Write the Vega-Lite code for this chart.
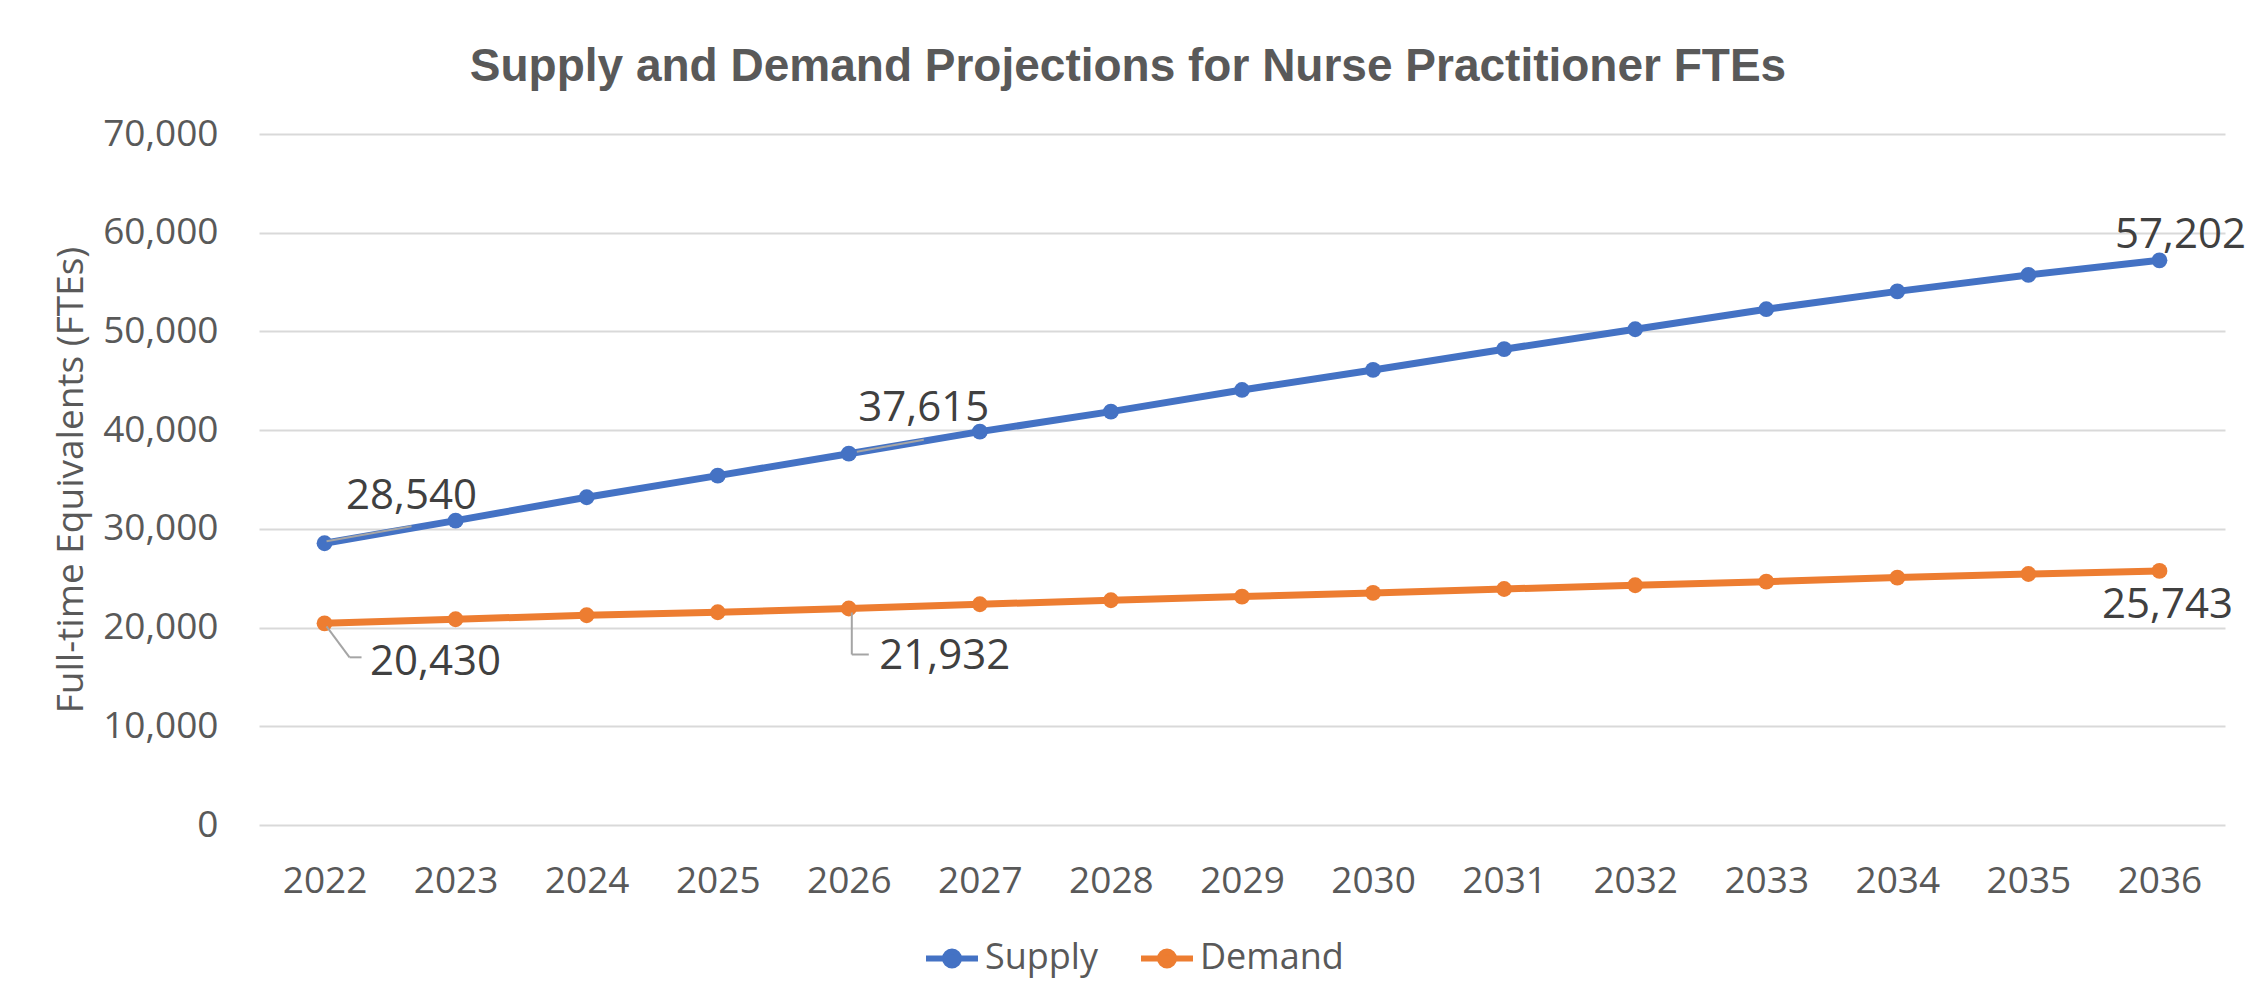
{
  "$schema": "https://vega.github.io/schema/vega-lite/v6.json",
  "width": 1966,
  "height": 691,
  "autosize": {"type": "none"},
  "padding": {"left": 259, "top": 134, "right": 32, "bottom": 175},
  "background": "white",
  "title": {
    "text": "Supply and Demand Projections for Nurse Practitioner FTEs",
    "font": "Liberation Sans",
    "fontSize": 46,
    "fontWeight": "bold",
    "color": "#595959",
    "anchor": "middle",
    "dx": -114,
    "dy": 51,
    "baseline": "alphabetic",
    "offset": 39
  },
  "config": {
    "view": {"stroke": null},
    "axis": {
      "labelFont": "Open Sans",
      "labelFontSize": 37,
      "labelColor": "#595959",
      "titleFont": "Open Sans",
      "titleFontSize": 37,
      "titleFontWeight": "normal",
      "titleColor": "#595959",
      "domain": false,
      "ticks": false,
      "tickSize": 0,
      "gridColor": "#D9D9D9",
      "gridWidth": 2
    }
  },
  "data": {
    "values": [
      {"year": 2022, "series": "Supply", "value": 28540},
      {"year": 2023, "series": "Supply", "value": 30830},
      {"year": 2024, "series": "Supply", "value": 33200},
      {"year": 2025, "series": "Supply", "value": 35390},
      {"year": 2026, "series": "Supply", "value": 37615},
      {"year": 2027, "series": "Supply", "value": 39850},
      {"year": 2028, "series": "Supply", "value": 41880},
      {"year": 2029, "series": "Supply", "value": 44070},
      {"year": 2030, "series": "Supply", "value": 46100},
      {"year": 2031, "series": "Supply", "value": 48200},
      {"year": 2032, "series": "Supply", "value": 50220},
      {"year": 2033, "series": "Supply", "value": 52250},
      {"year": 2034, "series": "Supply", "value": 54060},
      {"year": 2035, "series": "Supply", "value": 55720},
      {"year": 2036, "series": "Supply", "value": 57202},
      {"year": 2022, "series": "Demand", "value": 20430},
      {"year": 2023, "series": "Demand", "value": 20840},
      {"year": 2024, "series": "Demand", "value": 21250},
      {"year": 2025, "series": "Demand", "value": 21550},
      {"year": 2026, "series": "Demand", "value": 21932},
      {"year": 2027, "series": "Demand", "value": 22360},
      {"year": 2028, "series": "Demand", "value": 22770},
      {"year": 2029, "series": "Demand", "value": 23140},
      {"year": 2030, "series": "Demand", "value": 23510},
      {"year": 2031, "series": "Demand", "value": 23910},
      {"year": 2032, "series": "Demand", "value": 24290},
      {"year": 2033, "series": "Demand", "value": 24650},
      {"year": 2034, "series": "Demand", "value": 25060},
      {"year": 2035, "series": "Demand", "value": 25430},
      {"year": 2036, "series": "Demand", "value": 25743}
    ]
  },
  "encoding": {
    "x": {
      "field": "year",
      "type": "ordinal",
      "scale": {"type": "point", "padding": 0.5},
      "axis": {"title": null, "labelAngle": 0, "labelPadding": 38, "grid": false}
    },
    "y": {
      "field": "value",
      "type": "quantitative",
      "scale": {"domain": [0, 70000], "nice": false},
      "axis": {
        "title": "Full-time Equivalents (FTEs)",
        "values": [0, 10000, 20000, 30000, 40000, 50000, 60000, 70000],
        "format": ",.0f",
        "labelPadding": 41,
        "titlePadding": 12
      }
    }
  },
  "layer": [
    {
      "mark": {"type": "line", "strokeWidth": 7, "point": {"filled": true, "size": 250}},
      "encoding": {
        "color": {
          "field": "series",
          "type": "nominal",
          "scale": {"domain": ["Supply", "Demand"], "range": ["#4472C4", "#ED7D31"]},
          "legend": {
            "title": null,
            "orient": "none",
            "direction": "horizontal",
            "legendX": 664,
            "legendY": 795,
            "padding": 0,
            "columnPadding": 31,
            "labelFont": "Open Sans",
            "labelFontSize": 36,
            "labelColor": "#595959",
            "labelOffset": 4,
            "symbolType": "M-1,0L1,0M0.27,0A0.27,0.27,0,1,1,-0.27,0A0.27,0.27,0,1,1,0.27,0Z",
            "symbolSize": 2700,
            "symbolStrokeWidth": 6,
            "encode": {
              "symbols": {"update": {"fill": {"scale": "color", "field": "value"}, "stroke": {"scale": "color", "field": "value"}, "opacity": {"value": 1}}}
            }
          }
        }
      }
    },
    {
      "transform": [{"filter": "datum.year == 2022 && datum.series == 'Supply'"}],
      "mark": {"type": "rule", "color": "#A5A5A5", "strokeWidth": 2, "xOffset": 2, "yOffset": -2, "x2Offset": 87, "y2Offset": -17},
      "encoding": {"x2": {"field": "year"}, "y2": {"field": "value"}}
    },
    {
      "transform": [{"filter": "datum.year == 2026 && datum.series == 'Supply'"}],
      "mark": {"type": "rule", "color": "#A5A5A5", "strokeWidth": 2, "xOffset": 8, "yOffset": -2, "x2Offset": 75, "y2Offset": -14},
      "encoding": {"x2": {"field": "year"}, "y2": {"field": "value"}}
    },
    {
      "transform": [{"filter": "datum.year == 2022 && datum.series == 'Demand'"}],
      "mark": {"type": "rule", "color": "#A5A5A5", "strokeWidth": 2, "xOffset": 2, "yOffset": 3, "x2Offset": 25, "y2Offset": 34},
      "encoding": {"x2": {"field": "year"}, "y2": {"field": "value"}}
    },
    {
      "transform": [{"filter": "datum.year == 2022 && datum.series == 'Demand'"}],
      "mark": {"type": "rule", "color": "#A5A5A5", "strokeWidth": 2, "xOffset": 25, "yOffset": 34, "x2Offset": 37, "y2Offset": 34},
      "encoding": {"x2": {"field": "year"}, "y2": {"field": "value"}}
    },
    {
      "transform": [{"filter": "datum.year == 2026 && datum.series == 'Demand'"}],
      "mark": {"type": "rule", "color": "#A5A5A5", "strokeWidth": 2, "xOffset": 3, "yOffset": 4, "x2Offset": 3, "y2Offset": 46},
      "encoding": {"x2": {"field": "year"}, "y2": {"field": "value"}}
    },
    {
      "transform": [{"filter": "datum.year == 2026 && datum.series == 'Demand'"}],
      "mark": {"type": "rule", "color": "#A5A5A5", "strokeWidth": 2, "xOffset": 3, "yOffset": 46, "x2Offset": 20, "y2Offset": 46},
      "encoding": {"x2": {"field": "year"}, "y2": {"field": "value"}}
    },
    {
      "transform": [{"filter": "datum.year == 2022 && datum.series == 'Supply'"}],
      "mark": {"type": "text", "font": "Open Sans", "fontSize": 42, "color": "#404040", "align": "center", "baseline": "alphabetic", "dx": 87, "dy": -34},
      "encoding": {"text": {"field": "value", "format": ","}}
    },
    {
      "transform": [{"filter": "datum.year == 2026 && datum.series == 'Supply'"}],
      "mark": {"type": "text", "font": "Open Sans", "fontSize": 42, "color": "#404040", "align": "center", "baseline": "alphabetic", "dx": 75, "dy": -33},
      "encoding": {"text": {"field": "value", "format": ","}}
    },
    {
      "transform": [{"filter": "datum.year == 2036 && datum.series == 'Supply'"}],
      "mark": {"type": "text", "font": "Open Sans", "fontSize": 42, "color": "#404040", "align": "center", "baseline": "alphabetic", "dx": 21, "dy": -12},
      "encoding": {"text": {"field": "value", "format": ","}}
    },
    {
      "transform": [{"filter": "datum.year == 2022 && datum.series == 'Demand'"}],
      "mark": {"type": "text", "font": "Open Sans", "fontSize": 42, "color": "#404040", "align": "center", "baseline": "alphabetic", "dx": 111, "dy": 52},
      "encoding": {"text": {"field": "value", "format": ","}}
    },
    {
      "transform": [{"filter": "datum.year == 2026 && datum.series == 'Demand'"}],
      "mark": {"type": "text", "font": "Open Sans", "fontSize": 42, "color": "#404040", "align": "center", "baseline": "alphabetic", "dx": 96, "dy": 61},
      "encoding": {"text": {"field": "value", "format": ","}}
    },
    {
      "transform": [{"filter": "datum.year == 2036 && datum.series == 'Demand'"}],
      "mark": {"type": "text", "font": "Open Sans", "fontSize": 42, "color": "#404040", "align": "center", "baseline": "alphabetic", "dx": 8, "dy": 47},
      "encoding": {"text": {"field": "value", "format": ","}}
    }
  ]
}
